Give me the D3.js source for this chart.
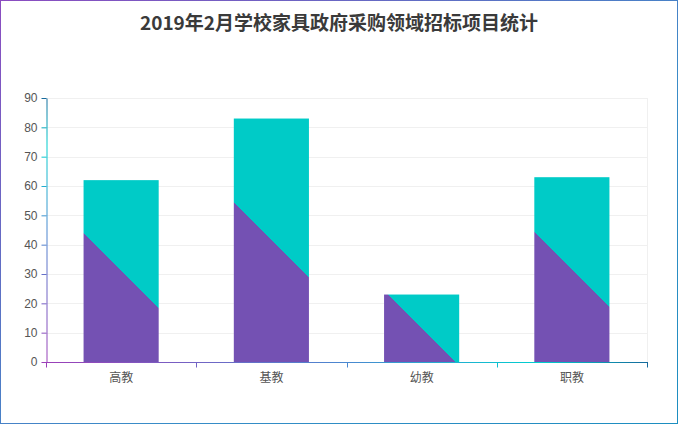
<!DOCTYPE html>
<html>
<head>
<meta charset="utf-8">
<script src="https://cdn.jsdelivr.net/npm/d3@7/dist/d3.min.js"></script>
<style>
  html, body { margin: 0; padding: 0; background: #fff; }
  #chart {
    width: 678px; height: 424px; box-sizing: border-box;
    border: 1px solid;
    border-image: linear-gradient(to bottom right, #8b4cc0, #3a8cc8 60%, #1c8ec0) 1;
  }
  svg { display: block; }
</style>
</head>
<body>
<div id="chart"></div>
<script>
const categories = ["高教", "基教", "幼教", "职教"];
const values = [62, 83, 23, 63];
const yTicks = [0, 10, 20, 30, 40, 50, 60, 70, 80, 90];
const titleText = "2019年2月学校家具政府采购领域招标项目统计";

const purple = "#7451b3";
const teal = "#00cbc7";
// axis line gradient stops, purple -> blue -> teal -> dark blue
const axisStops = [
  { offset: 0, color: "#9b3fb8" },
  { offset: 0.5, color: "#4a88d0" },
  { offset: 0.82, color: "#00cfcf" },
  { offset: 1, color: "#166a9c" }
];

const width = 676, height = 422;
const margin = { top: 97, right: 30, bottom: 61, left: 45 };

const svg = d3.select("#chart").append("svg")
  .attr("width", width)
  .attr("height", height);

const defs = svg.append("defs");

const x = d3.scaleBand()
  .domain(categories)
  .range([margin.left, width - margin.right])
  .paddingInner(0)
  .paddingOuter(0);

const y = d3.scaleLinear()
  .domain([0, 90])
  .range([height - margin.bottom, margin.top]);

// Title
svg.append("text")
  .attr("x", width / 2)
  .attr("y", 29)
  .attr("text-anchor", "middle")
  .style("font-family", "'Noto Sans CJK SC', 'Noto Sans', sans-serif")
  .style("font-weight", "bold")
  .style("font-size", "19px")
  .style("fill", "#3a3a3a")
  .text(titleText);

// Grid lines
svg.append("g")
  .selectAll("line")
  .data(yTicks.slice(1))
  .enter().append("line")
  .attr("x1", margin.left)
  .attr("x2", width - margin.right)
  .attr("y1", d => Math.round(y(d)) + 0.5)
  .attr("y2", d => Math.round(y(d)) + 0.5)
  .style("stroke", "#f0f0f0");

svg.append("line")
  .attr("x1", width - margin.right + 0.5)
  .attr("x2", width - margin.right + 0.5)
  .attr("y1", margin.top)
  .attr("y2", height - margin.bottom)
  .style("stroke", "#f0f0f0");

// Bars
const bars = svg.append("g");
const barW = x.bandwidth() * 0.5;

values.forEach((v, i) => {
  const bx = x(categories[i]) + (x.bandwidth() - barW) / 2;
  const by = y(v);
  const bh = y(0) - y(v);
  const cx = bx + barW / 2, cy = by + bh / 2;

  const grad = defs.append("linearGradient")
    .attr("id", "barGrad" + i)
    .attr("gradientUnits", "userSpaceOnUse")
    .attr("x1", cx - 50).attr("y1", cy + 50)
    .attr("x2", cx + 50).attr("y2", cy - 50);
  grad.append("stop").attr("offset", 0).attr("stop-color", purple);
  grad.append("stop").attr("offset", 0.5).attr("stop-color", purple);
  grad.append("stop").attr("offset", 0.5).attr("stop-color", teal);
  grad.append("stop").attr("offset", 1).attr("stop-color", teal);

  bars.append("rect")
    .attr("x", bx)
    .attr("y", by)
    .attr("width", barW)
    .attr("height", bh)
    .attr("fill", `url(#barGrad${i})`);
});

// Axis gradients
function axisGradient(id, x1, y1, x2, y2) {
  const g = defs.append("linearGradient")
    .attr("id", id)
    .attr("gradientUnits", "userSpaceOnUse")
    .attr("x1", x1).attr("y1", y1)
    .attr("x2", x2).attr("y2", y2);
  axisStops.forEach(s => g.append("stop").attr("offset", s.offset).attr("stop-color", s.color));
}
axisGradient("yAxisGrad", 0, y(0), 0, y(90));
axisGradient("xAxisGrad", margin.left, 0, width - margin.right, 0);

// Y axis
const yAxis = svg.append("g")
  .attr("transform", `translate(${margin.left + 0.5},0)`)
  .call(d3.axisLeft(y).tickValues(yTicks).tickSize(5).tickSizeOuter(0).tickPadding(4));
yAxis.select(".domain").style("stroke", "url(#yAxisGrad)");
yAxis.selectAll(".tick line").style("stroke", "url(#yAxisGrad)");
yAxis.selectAll(".tick line").each(function(d) {
  // gradient on a zero-height line needs its own colour, so pick from y
  const t = (y(0) - y(d)) / (y(0) - y(90));
  d3.select(this).style("stroke", colorAt(t));
});
yAxis.selectAll("text")
  .style("font-family", "'Liberation Sans', Arial, sans-serif")
  .style("font-size", "12px")
  .style("fill", "#555");

// X axis
const xAxis = svg.append("g")
  .attr("transform", `translate(0,${y(0) + 0.5})`)
  .call(d3.axisBottom(x).tickSize(0).tickPadding(11));
xAxis.select(".domain").remove();
xAxis.append("line")
  .attr("x1", margin.left)
  .attr("x2", width - margin.right + 1)
  .attr("y1", 0).attr("y2", 0)
  .style("stroke", "url(#xAxisGrad)");
// boundary ticks between categories
const bounds = categories.map(c => x(c)).concat([width - margin.right]);
xAxis.selectAll(".bound")
  .data(bounds)
  .enter().append("line")
  .attr("class", "bound")
  .attr("x1", d => Math.round(d) + 0.5)
  .attr("x2", d => Math.round(d) + 0.5)
  .attr("y1", 0).attr("y2", 5)
  .style("stroke", d => colorAt((d - margin.left) / (width - margin.right - margin.left)));
xAxis.selectAll(".tick text")
  .style("font-family", "'Noto Sans CJK SC', sans-serif")
  .style("font-size", "12px")
  .style("fill", "#555");

function colorAt(t) {
  for (let k = 1; k < axisStops.length; k++) {
    if (t <= axisStops[k].offset) {
      const a = axisStops[k - 1], b = axisStops[k];
      return d3.interpolateRgb(a.color, b.color)((t - a.offset) / (b.offset - a.offset));
    }
  }
  return axisStops[axisStops.length - 1].color;
}
</script>
</body>
</html>
